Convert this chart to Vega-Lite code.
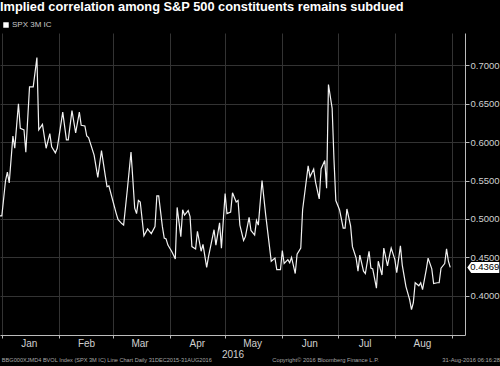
{
  "$schema": "https://vega.github.io/schema/vega-lite/v6.json",
  "width": 465,
  "height": 302,
  "autosize": {"type": "none"},
  "padding": {"left": 0, "top": 33, "right": 35, "bottom": 31},
  "background": "#000000",
  "config": {"view": {"stroke": null}, "font": "Liberation Sans"},
  "title": {
    "text": "Implied correlation among S&P 500 constituents remains subdued",
    "anchor": "start",
    "frame": "group",
    "offset": 7,
    "color": "#ffffff",
    "font": "Liberation Sans",
    "fontSize": 12.8,
    "fontWeight": "bold"
  },
  "datasets": {
    "spx": [
      {"date": "2015-12-31", "v": 0.504},
      {"date": "2016-01-01", "v": 0.504},
      {"date": "2016-01-03", "v": 0.550},
      {"date": "2016-01-04", "v": 0.561},
      {"date": "2016-01-05", "v": 0.547},
      {"date": "2016-01-07", "v": 0.608},
      {"date": "2016-01-08", "v": 0.592},
      {"date": "2016-01-10", "v": 0.650},
      {"date": "2016-01-11", "v": 0.618},
      {"date": "2016-01-13", "v": 0.616},
      {"date": "2016-01-14", "v": 0.587},
      {"date": "2016-01-16", "v": 0.672},
      {"date": "2016-01-18", "v": 0.672},
      {"date": "2016-01-20", "v": 0.710},
      {"date": "2016-01-21", "v": 0.616},
      {"date": "2016-01-23", "v": 0.623},
      {"date": "2016-01-25", "v": 0.592},
      {"date": "2016-01-27", "v": 0.611},
      {"date": "2016-01-28", "v": 0.594},
      {"date": "2016-01-30", "v": 0.586},
      {"date": "2016-01-31", "v": 0.592},
      {"date": "2016-02-03", "v": 0.639},
      {"date": "2016-02-05", "v": 0.603},
      {"date": "2016-02-06", "v": 0.603},
      {"date": "2016-02-08", "v": 0.641},
      {"date": "2016-02-10", "v": 0.612},
      {"date": "2016-02-12", "v": 0.639},
      {"date": "2016-02-13", "v": 0.622},
      {"date": "2016-02-15", "v": 0.621},
      {"date": "2016-02-16", "v": 0.608},
      {"date": "2016-02-17", "v": 0.606},
      {"date": "2016-02-20", "v": 0.583},
      {"date": "2016-02-22", "v": 0.554},
      {"date": "2016-02-24", "v": 0.589},
      {"date": "2016-02-26", "v": 0.557},
      {"date": "2016-02-27", "v": 0.542},
      {"date": "2016-02-28", "v": 0.543},
      {"date": "2016-03-01", "v": 0.525},
      {"date": "2016-03-03", "v": 0.507},
      {"date": "2016-03-04", "v": 0.499},
      {"date": "2016-03-06", "v": 0.494},
      {"date": "2016-03-07", "v": 0.492},
      {"date": "2016-03-09", "v": 0.538},
      {"date": "2016-03-11", "v": 0.587},
      {"date": "2016-03-12", "v": 0.551},
      {"date": "2016-03-13", "v": 0.514},
      {"date": "2016-03-14", "v": 0.507},
      {"date": "2016-03-15", "v": 0.524},
      {"date": "2016-03-16", "v": 0.522},
      {"date": "2016-03-18", "v": 0.478},
      {"date": "2016-03-20", "v": 0.487},
      {"date": "2016-03-21", "v": 0.484},
      {"date": "2016-03-22", "v": 0.481},
      {"date": "2016-03-24", "v": 0.490},
      {"date": "2016-03-25", "v": 0.530},
      {"date": "2016-03-26", "v": 0.530},
      {"date": "2016-03-28", "v": 0.490},
      {"date": "2016-03-29", "v": 0.475},
      {"date": "2016-03-30", "v": 0.474},
      {"date": "2016-03-31", "v": 0.466},
      {"date": "2016-04-02", "v": 0.458},
      {"date": "2016-04-03", "v": 0.453},
      {"date": "2016-04-04", "v": 0.448},
      {"date": "2016-04-05", "v": 0.515},
      {"date": "2016-04-07", "v": 0.477},
      {"date": "2016-04-08", "v": 0.512},
      {"date": "2016-04-09", "v": 0.505},
      {"date": "2016-04-11", "v": 0.511},
      {"date": "2016-04-12", "v": 0.503},
      {"date": "2016-04-13", "v": 0.464},
      {"date": "2016-04-15", "v": 0.461},
      {"date": "2016-04-16", "v": 0.484},
      {"date": "2016-04-18", "v": 0.458},
      {"date": "2016-04-19", "v": 0.467},
      {"date": "2016-04-21", "v": 0.437},
      {"date": "2016-04-22", "v": 0.451},
      {"date": "2016-04-25", "v": 0.486},
      {"date": "2016-04-26", "v": 0.466},
      {"date": "2016-04-28", "v": 0.495},
      {"date": "2016-04-29", "v": 0.462},
      {"date": "2016-05-01", "v": 0.533},
      {"date": "2016-05-02", "v": 0.507},
      {"date": "2016-05-04", "v": 0.509},
      {"date": "2016-05-05", "v": 0.534},
      {"date": "2016-05-07", "v": 0.522},
      {"date": "2016-05-08", "v": 0.524},
      {"date": "2016-05-09", "v": 0.492},
      {"date": "2016-05-11", "v": 0.472},
      {"date": "2016-05-12", "v": 0.477},
      {"date": "2016-05-14", "v": 0.502},
      {"date": "2016-05-15", "v": 0.485},
      {"date": "2016-05-17", "v": 0.479},
      {"date": "2016-05-18", "v": 0.498},
      {"date": "2016-05-19", "v": 0.492},
      {"date": "2016-05-21", "v": 0.550},
      {"date": "2016-05-23", "v": 0.505},
      {"date": "2016-05-26", "v": 0.445},
      {"date": "2016-05-28", "v": 0.449},
      {"date": "2016-05-29", "v": 0.434},
      {"date": "2016-05-31", "v": 0.434},
      {"date": "2016-06-01", "v": 0.459},
      {"date": "2016-06-02", "v": 0.442},
      {"date": "2016-06-04", "v": 0.447},
      {"date": "2016-06-05", "v": 0.443},
      {"date": "2016-06-06", "v": 0.450},
      {"date": "2016-06-08", "v": 0.429},
      {"date": "2016-06-09", "v": 0.454},
      {"date": "2016-06-11", "v": 0.462},
      {"date": "2016-06-12", "v": 0.512},
      {"date": "2016-06-15", "v": 0.569},
      {"date": "2016-06-16", "v": 0.555},
      {"date": "2016-06-18", "v": 0.565},
      {"date": "2016-06-19", "v": 0.548},
      {"date": "2016-06-21", "v": 0.526},
      {"date": "2016-06-22", "v": 0.565},
      {"date": "2016-06-24", "v": 0.576},
      {"date": "2016-06-25", "v": 0.540},
      {"date": "2016-06-26", "v": 0.675},
      {"date": "2016-06-28", "v": 0.644},
      {"date": "2016-06-29", "v": 0.577},
      {"date": "2016-06-30", "v": 0.524},
      {"date": "2016-07-02", "v": 0.512},
      {"date": "2016-07-04", "v": 0.488},
      {"date": "2016-07-05", "v": 0.488},
      {"date": "2016-07-06", "v": 0.513},
      {"date": "2016-07-08", "v": 0.491},
      {"date": "2016-07-09", "v": 0.464},
      {"date": "2016-07-11", "v": 0.449},
      {"date": "2016-07-12", "v": 0.432},
      {"date": "2016-07-13", "v": 0.453},
      {"date": "2016-07-15", "v": 0.432},
      {"date": "2016-07-16", "v": 0.429},
      {"date": "2016-07-18", "v": 0.458},
      {"date": "2016-07-19", "v": 0.436},
      {"date": "2016-07-20", "v": 0.435},
      {"date": "2016-07-22", "v": 0.410},
      {"date": "2016-07-23", "v": 0.445},
      {"date": "2016-07-25", "v": 0.427},
      {"date": "2016-07-26", "v": 0.462},
      {"date": "2016-07-28", "v": 0.439},
      {"date": "2016-07-29", "v": 0.451},
      {"date": "2016-07-30", "v": 0.462},
      {"date": "2016-08-01", "v": 0.447},
      {"date": "2016-08-02", "v": 0.430},
      {"date": "2016-08-04", "v": 0.465},
      {"date": "2016-08-05", "v": 0.440},
      {"date": "2016-08-07", "v": 0.412},
      {"date": "2016-08-09", "v": 0.395},
      {"date": "2016-08-10", "v": 0.382},
      {"date": "2016-08-11", "v": 0.391},
      {"date": "2016-08-12", "v": 0.417},
      {"date": "2016-08-14", "v": 0.413},
      {"date": "2016-08-15", "v": 0.417},
      {"date": "2016-08-16", "v": 0.408},
      {"date": "2016-08-18", "v": 0.434},
      {"date": "2016-08-19", "v": 0.449},
      {"date": "2016-08-21", "v": 0.435},
      {"date": "2016-08-22", "v": 0.416},
      {"date": "2016-08-24", "v": 0.417},
      {"date": "2016-08-25", "v": 0.417},
      {"date": "2016-08-26", "v": 0.436},
      {"date": "2016-08-28", "v": 0.442},
      {"date": "2016-08-29", "v": 0.461},
      {"date": "2016-08-30", "v": 0.445},
      {"date": "2016-08-31", "v": 0.4369}
    ]
  },
  "data": {"name": "spx"},
  "encoding": {
    "x": {
      "field": "date",
      "type": "temporal",
      "scale": {"type": "utc", "domain": ["2015-12-31", "2016-09-08"]},
      "axis": {
        "orient": "bottom",
        "title": "2016",
        "titleColor": "#d0d0d0",
        "titleFont": "Liberation Sans",
        "titleFontSize": 10,
        "titleFontWeight": "normal",
        "titlePadding": 1,
        "tickCount": {"interval": "month", "step": 1},
        "labelExpr": "utcmonth(datum.value) == 8 ? '' : utcFormat(datum.value, '%b')",
        "labelAlign": "center",
        "labelOffset": 27,
        "labelColor": "#d0d0d0",
        "labelFont": "Liberation Sans",
        "labelFontSize": 10,
        "labelPadding": 0,
        "labelFlush": false,
        "labelOverlap": false,
        "tickSize": 3,
        "tickColor": "#bbbbbb",
        "domainColor": "#bbbbbb",
        "grid": true,
        "gridColor": "#333333",
        "gridWidth": 1
      }
    },
    "y": {
      "field": "v",
      "type": "quantitative",
      "scale": {"domain": [0.349, 0.742], "zero": false, "nice": false},
      "axis": {
        "orient": "right",
        "title": null,
        "values": [0.4, 0.45, 0.5, 0.55, 0.6, 0.65, 0.7],
        "format": ".4f",
        "labelColor": "#d0d0d0",
        "labelFont": "Liberation Sans",
        "labelFontSize": 9.5,
        "labelPadding": 1,
        "tickSize": 4,
        "tickColor": "#bbbbbb",
        "domainColor": "#bbbbbb",
        "grid": true,
        "gridColor": "#333333",
        "gridWidth": 1
      }
    }
  },
  "layer": [
    {
      "mark": {"type": "line", "strokeWidth": 1.2},
      "encoding": {
        "color": {
          "datum": "SPX 3M IC",
          "type": "nominal",
          "scale": {"range": ["#f2f2f2"]},
          "legend": {
            "orient": "none",
            "legendX": 2,
            "legendY": -12,
            "title": null,
            "symbolType": "square",
            "symbolSize": 30,
            "symbolFillColor": "#ffffff",
            "symbolStrokeColor": "#ffffff",
            "symbolStrokeWidth": 0,
            "labelColor": "#c8c8c8",
            "labelFont": "Liberation Sans",
            "labelFontSize": 8,
            "labelOffset": 2,
            "padding": 0
          }
        }
      }
    },
    {
      "transform": [{"filter": "datum.v == 0.4369"}],
      "mark": {
        "type": "point",
        "shape": "M 1.7 0 L 2.1 -0.55 L 4.9 -0.55 L 4.9 0.55 L 2.1 0.55 Z",
        "size": 400,
        "filled": true,
        "color": "#ffffff",
        "opacity": 1,
        "strokeWidth": 0
      }
    },
    {
      "transform": [{"filter": "datum.v == 0.4369"}],
      "mark": {
        "type": "text",
        "align": "left",
        "baseline": "middle",
        "dx": 20,
        "color": "#000000",
        "font": "Liberation Sans",
        "fontSize": 9.5
      },
      "encoding": {"text": {"field": "v", "type": "quantitative", "format": ".4f"}}
    },
    {
      "transform": [{"filter": "datum.v == 0.4369"}],
      "mark": {"type": "text", "text": "BBG000XJMD4 BVOL Index (SPX 3M IC) Line Chart  Daily 31DEC2015-31AUG2016", "align": "left", "baseline": "middle", "color": "#a8a8a8", "font": "Liberation Sans", "fontSize": 5.6},
      "encoding": {
        "x": {"datum": 1451606400000, "type": "temporal"},
        "y": {"datum": 0.317, "type": "quantitative"}
      }
    },
    {
      "transform": [{"filter": "datum.v == 0.4369"}],
      "mark": {"type": "text", "text": "Copyright© 2016 Bloomberg Finance L.P.", "align": "center", "baseline": "middle", "color": "#a8a8a8", "font": "Liberation Sans", "fontSize": 5.8},
      "encoding": {
        "x": {"datum": 1466762400000, "type": "temporal"},
        "y": {"datum": 0.317, "type": "quantitative"}
      }
    },
    {
      "transform": [{"filter": "datum.v == 0.4369"}],
      "mark": {"type": "text", "text": "31-Aug-2016 06:16:28", "align": "right", "baseline": "middle", "color": "#a8a8a8", "font": "Liberation Sans", "fontSize": 5.8},
      "encoding": {
        "x": {"datum": 1474934400000, "type": "temporal"},
        "y": {"datum": 0.317, "type": "quantitative"}
      }
    }
  ]
}
